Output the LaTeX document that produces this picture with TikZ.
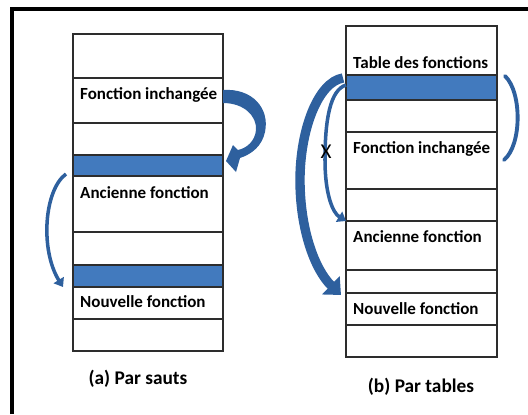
\documentclass[tikz,border=0pt]{standalone}
\usepackage{fontspec}
\setmainfont{Carlito}
\usetikzlibrary{arrows.meta}
\definecolor{barblue}{RGB}{66,122,190}
\definecolor{arrblue}{RGB}{46,96,158}
\definecolor{rowline}{RGB}{45,45,45}
\tikzset{
 rowbox/.style={draw=rowline, line width=0.9pt, minimum width=4.5cm, inner sep=0pt, outer sep=0pt, anchor=north west},
 rowboxb/.style={rowbox, minimum width=4.53cm},
 hh/.style={minimum height=#1*0.03cm},
 bluebar/.style={fill=barblue},
 lbl/.style={font=\fontsize{14.5}{16}\selectfont\bfseries, anchor=base west, inner sep=0pt},
 captxt/.style={font=\fontsize{16.5}{20}\selectfont\bfseries, anchor=base, inner sep=0pt},
 thinarrow/.style={draw=arrblue, line width=3pt, -{Triangle[length=7pt,width=10pt]}},
 thickarrow/.style={draw=arrblue, line width=8pt, -{Triangle[length=12pt,width=21pt]}},
 frame/.style={draw=black, line width=2.6pt},
}
\begin{document}
\begin{tikzpicture}[x=0.03cm,y=-0.03cm]
\useasboundingbox (0,0) rectangle (528,414);
% frame
\coordinate (f1) at (12,414);
\coordinate (f2) at (12,9);
\coordinate (f3) at (528,9);
\draw[frame] (f1) -- (f2) -- (f3);

% left table
\node[rowbox, hh=44] (a1) at (73,34) {};
\node[rowbox, hh=45] (a2) at (73,78) {};
\node[rowbox, hh=32] (a3) at (73,123) {};
\node[rowbox, hh=21, bluebar] (a4) at (73,155) {};
\node[rowbox, hh=56] (a5) at (73,176) {};
\node[rowbox, hh=33] (a6) at (73,232) {};
\node[rowbox, hh=22, bluebar] (a7) at (73,265) {};
\node[rowbox, hh=32] (a8) at (73,287) {};
\node[rowbox, hh=32] (a9) at (73,319) {};
\node[lbl] (la2) at (80,99) {Fonction inchangée};
\node[lbl] (la5) at (80,198) {Ancienne fonction};
\node[lbl] (la8) at (80,307) {Nouvelle fonction};
\node[captxt] (capa) at (138,384) {(a) Par sauts};

% right table
\node[rowboxb, hh=49] (b1) at (346,26) {};
\node[rowboxb, hh=25, bluebar] (b2) at (346,75) {};
\node[rowboxb, hh=32] (b3) at (346,100) {};
\node[rowboxb, hh=57] (b4) at (346,132) {};
\node[rowboxb, hh=32] (b5) at (346,189) {};
\node[rowboxb, hh=49] (b6) at (346,221) {};
\node[rowboxb, hh=23] (b7) at (346,270) {};
\node[rowboxb, hh=32] (b8) at (346,293) {};
\node[rowboxb, hh=32] (b9) at (346,325) {};
\node[lbl] (lb1) at (353,68) {Table des fonctions};
\node[lbl] (lb4) at (353,153) {Fonction inchangée};
\node[lbl] (lb6) at (353,242) {Ancienne fonction};
\node[lbl] (lb8) at (353,314) {Nouvelle fonction};
\node[captxt] (capb) at (421,392) {(b) Par tables};

% big curved arrow (a)
\fill[arrblue] (223,90) .. controls (252,88) and (270,108) .. (265,132)
  .. controls (262,146) and (252,154) .. (240,158) -- (236,172) -- (226,161)
  -- (233,145) -- (238,150) .. controls (247,148) and (255,141) .. (256,130)
  .. controls (257,116) and (244,103) .. (223,103) -- cycle;
% thin arrow (a)
\coordinate (ta) at (66,174);
\coordinate (tb) at (63,287);
\draw[thinarrow] (ta) .. controls (44,190) and (40,250) .. (tb);

% arrows (b)
\coordinate (tc) at (343,78);
\coordinate (td) at (341,295);
\draw[thickarrow] (tc) .. controls (318,82) and (300,130) .. (300,180)
  .. controls (300,230) and (315,270) .. (td);
\coordinate (te) at (346,85);
\draw[thinarrow] (te) .. controls (330,90) and (325,120) .. (325,160)
  .. controls (325,195) and (333,213) .. (b6.north west);
\node[font=\fontsize{18}{20}\selectfont, inner sep=0pt] (xm) at (326,152) {X};
\coordinate (tf) at (505,76);
\coordinate (tg) at (504,160);
\draw[arrblue, line width=3.3pt, line cap=round] (tf) .. controls (522,92) and (522,145) .. (tg);
\end{tikzpicture}
\end{document}
